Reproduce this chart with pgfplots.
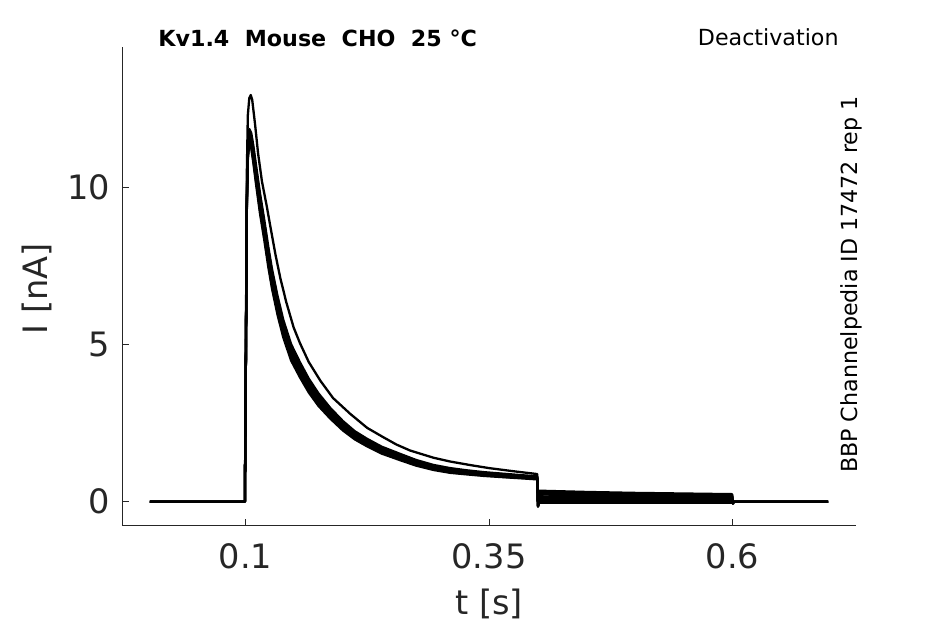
\documentclass[border=0pt]{standalone}
\usepackage{fontspec}
\setmainfont{DejaVu Sans}
\usepackage{pgfplots}
\pgfplotsset{compat=1.18}
\usepackage{pgfplotstable}
\definecolor{axgray}{RGB}{38,38,38}

\pgfplotstableread{
t      b1     b2     b3     b4     b5     b6     b7
0.002  0      0      0      0      0      0      0
0.0995 0      0      0      0      0      0      0
0.1005 4.40   4.43   4.47   4.50   4.53   4.57   4.60
0.1015 9.30   9.37   9.43   9.50   9.57   9.63   9.70
0.1025 10.88  10.95  11.03  11.10  11.17  11.25  11.32
0.104  11.43  11.50  11.58  11.65  11.72  11.80  11.87
0.106  11.26  11.34  11.42  11.50  11.58  11.66  11.74
0.108  10.83  10.92  11.01  11.10  11.19  11.28  11.37
0.111  10.10  10.20  10.30  10.40  10.50  10.60  10.70
0.115  9.18   9.29   9.39   9.50   9.61   9.71   9.82
0.1195 8.31   8.42   8.52   8.63   8.74   8.84   8.95
0.1235 7.48   7.59   7.69   7.80   7.91   8.01   8.12
0.1273 6.79   6.89   7.00   7.10   7.20   7.31   7.41
0.133  5.95   6.05   6.15   6.25   6.35   6.45   6.55
0.139  5.22   5.31   5.41   5.50   5.59   5.69   5.78
0.147  4.49   4.58   4.66   4.75   4.84   4.92   5.01
0.156  3.96   4.04   4.12   4.20   4.28   4.36   4.44
0.165  3.48   3.55   3.63   3.70   3.77   3.85   3.92
0.175  3.05   3.12   3.18   3.25   3.32   3.38   3.45
0.187  2.65   2.71   2.76   2.82   2.88   2.93   2.99
0.200  2.27   2.32   2.37   2.42   2.47   2.52   2.57
0.212  1.99   2.03   2.08   2.12   2.16   2.21   2.25
0.225  1.76   1.80   1.84   1.88   1.92   1.96   2.00
0.240  1.53   1.57   1.60   1.64   1.68   1.71   1.75
0.259  1.32   1.35   1.39   1.42   1.45   1.49   1.52
0.275  1.15   1.18   1.21   1.24   1.27   1.30   1.33
0.293  1.01   1.04   1.06   1.09   1.12   1.14   1.17
0.310  0.92   0.94   0.97   0.99   1.02   1.04   1.07
0.327  0.87   0.89   0.91   0.93   0.95   0.97   1.00
0.345  0.82   0.84   0.86   0.88   0.90   0.92   0.94
0.365  0.78   0.79   0.81   0.83   0.85   0.87   0.89
0.385  0.74   0.76   0.77   0.79   0.81   0.82   0.84
0.3995 0.71   0.73   0.74   0.76   0.78   0.79   0.81
0.4003 -0.15  -0.14  -0.16  -0.13  -0.15  -0.12  -0.14
0.4012 -0.03  0.02   0.07   0.12   0.17   0.23   0.29
0.45   -0.03  0.018  0.065  0.11   0.155  0.21   0.26
0.50   -0.03  0.015  0.06   0.10   0.14   0.19   0.24
0.55   -0.03  0.012  0.055  0.09   0.13   0.17   0.22
0.5995 -0.03  0.01   0.05   0.08   0.12   0.16   0.20
0.6003 -0.06  -0.05  -0.06  -0.04  -0.05  -0.06  -0.05
0.6012 0      0      0      0      0      0      0
0.698  0      0      0      0      0      0      0
}\band

\pgfplotstableread{
t      a
0.002  0
0.0995 0
0.1005 5.0
0.1015 10.5
0.1025 12.3
0.104  12.85
0.1055 12.95
0.107  12.8
0.110  12.0
0.113  11.1
0.117  10.2
0.122  9.4
0.126  8.7
0.131  7.85
0.136  7.1
0.142  6.35
0.1495 5.55
0.156  5.05
0.165  4.45
0.177  3.85
0.190  3.3
0.2075 2.8
0.225  2.35
0.2417 2.05
0.255  1.82
0.269  1.63
0.293  1.40
0.310  1.28
0.330  1.17
0.350  1.07
0.375  0.97
0.3995 0.88
0.4003 -0.12
0.4012 0.35
0.45   0.31
0.50   0.28
0.55   0.26
0.5995 0.24
0.6003 -0.04
0.6012 0.0
0.698  0.0
}\upper

\begin{document}
\begin{tikzpicture}
\useasboundingbox (0,0) rectangle (472.5pt,312pt);
\begin{axis}[
  at={(61pt,49pt)}, anchor=south west,
  width=367pt, height=239.5pt, scale only axis,
  xmin=-0.0266, xmax=0.7266, ymin=-0.774, ymax=14.48,
  axis x line*=bottom, axis y line*=left,
  axis line style={draw=axgray, line width=0.5pt},
  xtick={0.1,0.35,0.6}, xticklabels={0.1,0.35,0.6},
  ytick={0,5,10}, yticklabels={0,5,10},
  tick align=inside, major tick length=3.4pt,
  tick style={draw=axgray, line width=0.5pt},
  ticklabel style={font=\fontsize{16.8}{20}\selectfont, text=axgray},
  xticklabel style={yshift=-5pt},
  yticklabel style={xshift=-2.4pt},
  cycle list={{black, solid, mark=none}},
  every axis plot/.append style={line width=1.15pt, line join=round},
]
\addplot table[x=t,y=b1]{\band};
\addplot table[x=t,y=b2]{\band};
\addplot table[x=t,y=b3]{\band};
\addplot table[x=t,y=b4]{\band};
\addplot table[x=t,y=b5]{\band};
\addplot table[x=t,y=b6]{\band};
\addplot table[x=t,y=b7]{\band};
\addplot table[x=t,y=a]{\upper};
\end{axis}
\node[anchor=center, text=axgray, font=\fontsize{16.8}{20}\selectfont] at (244.5pt,10pt) {t [s]};
\node[anchor=center, rotate=90, text=axgray, font=\fontsize{16.8}{20}\selectfont] at (18.5pt,167.5pt) {I [nA]};
\node[anchor=base west, inner sep=0pt, font=\bfseries\fontsize{11.1}{13}\selectfont] at (79pt,288.65pt) {Kv1.4\ \ Mouse\ \ CHO\ \ 25 °C};
\node[anchor=base east, inner sep=0pt, font=\fontsize{11.1}{13}\selectfont] at (419.5pt,289pt) {Deactivation};
\node[anchor=base west, inner sep=0pt, rotate=90, font=\fontsize{11.1}{13}\selectfont] at (428.5pt,75.3pt) {BBP Channelpedia ID 17472 rep 1};
\end{tikzpicture}
\end{document}
